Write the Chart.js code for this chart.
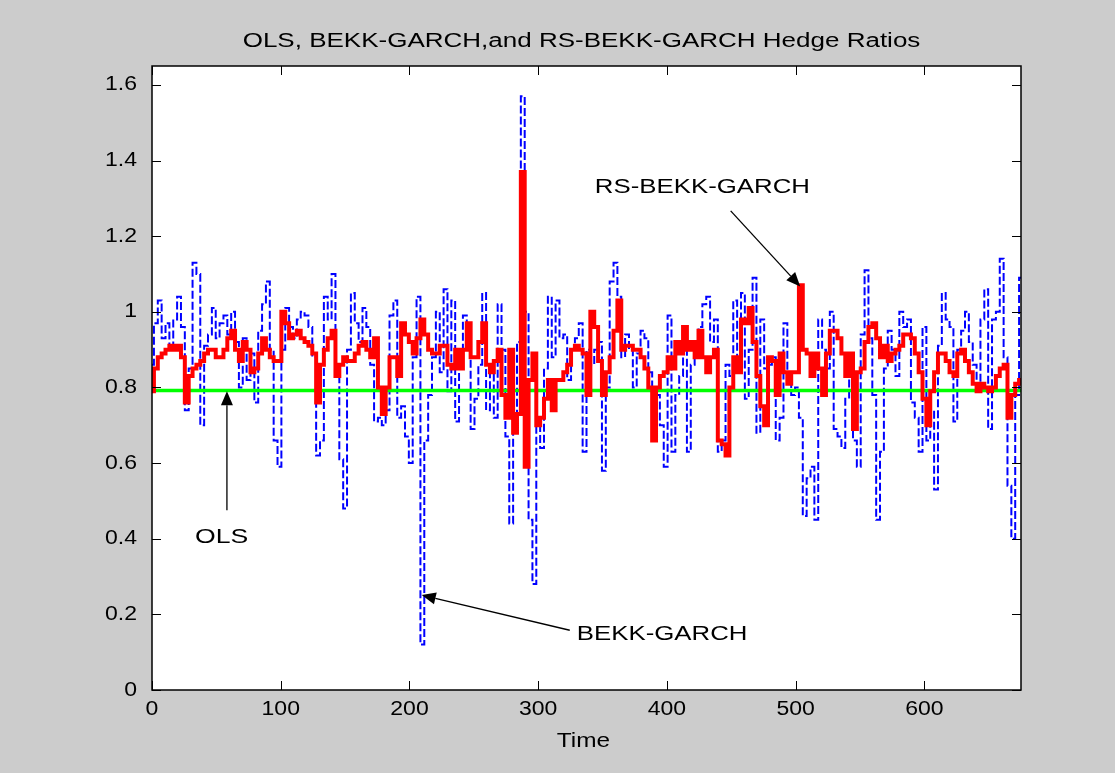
<!DOCTYPE html>
<html>
<head>
<meta charset="utf-8">
<script src="https://cdn.jsdelivr.net/npm/chart.js@4.4.1/dist/chart.umd.min.js"></script>
<style>
  html, body { margin: 0; padding: 0; background: #cccccc; }
  canvas { display: block; }
</style>
</head>
<body>
<canvas id="myChart" width="1115" height="773"></canvas>
<script>
// time index (every third observation)
const time = [
  0,3,6,9,12,15,18,21,24,27,30,33,36,39,42,45,48,51,54,57,60,63,66,69,72,75,78,81,84,87,
  90,93,96,99,102,105,108,111,114,117,120,123,126,129,132,135,138,141,144,147,150,153,156,159,
  162,165,168,171,174,177,180,183,186,189,192,195,198,201,204,207,210,213,216,219,222,225,
  228,231,234,237,240,243,246,249,252,255,258,261,264,267,270,273,276,279,282,285,288,291,
  294,297,300,303,306,309,312,315,318,321,324,327,330,333,336,339,342,345,348,351,354,357,
  360,363,366,369,372,375,378,381,384,387,390,393,396,399,402,405,408,411,414,417,420,423,
  426,429,432,435,438,441,444,447,450,453,456,459,462,465,468,471,474,477,480,483,486,489,
  492,495,498,501,504,507,510,513,516,519,522,525,528,531,534,537,540,543,546,549,552,555,
  558,561,564,567,570,573,576,579,582,585,588,591,594,597,600,603,606,609,612,615,618,621,
  624,627,630,633,636,639,642,645,648,651,654,657,660,663,666,669,672,675
];

// BEKK-GARCH hedge ratio (blue dashed)
const bekk = [
  0.86,0.97,1.03,0.93,0.97,0.90,0.98,1.04,0.96,0.74,
  0.85,1.13,1.10,0.70,0.91,0.94,1.01,0.93,0.97,0.99,
  0.94,1.00,0.92,0.80,0.93,0.82,0.89,0.76,0.95,1.02,
  1.08,0.90,0.66,0.59,0.90,1.01,0.96,0.93,0.98,
  1.00,0.99,0.96,0.88,0.62,0.66,1.04,0.98,1.10,0.86,
  0.61,0.48,0.90,1.05,0.97,0.92,1.01,0.96,0.86,0.71,
  0.72,0.70,0.74,0.99,1.03,0.72,0.75,0.67,0.60,0.88,
  1.04,0.12,0.66,0.78,0.88,1.00,0.84,
  1.06,0.79,1.03,0.71,0.86,0.99,0.90,0.69,0.77,0.86,
  1.05,0.74,0.84,0.72,1.02,0.90,0.67,0.44,0.68,0.92,
  1.57,1.00,0.45,0.28,0.70,0.64,0.85,1.04,0.88,1.03,
  0.93,0.94,0.82,0.90,0.93,0.97,0.63,0.90,
  0.86,0.90,0.92,0.58,0.80,1.08,1.13,1.04,0.88,0.94,
  0.90,0.80,0.89,0.95,0.93,0.84,0.76,0.78,0.70,0.59,
  0.99,0.63,0.78,0.83,0.92,0.63,0.86,0.92,0.96,1.02,
  1.04,0.92,0.98,0.63,0.66,0.86,0.83,
  1.03,0.88,1.05,0.77,0.90,1.09,0.68,0.98,0.85,0.86,
  0.88,0.66,0.72,0.97,0.83,0.78,0.80,0.72,0.46,0.56,
  0.59,0.45,0.98,0.90,0.85,1.00,0.69,0.67,0.64,0.77,
  0.84,0.66,0.59,0.94,1.11,0.93,0.78,0.45,
  0.63,0.85,0.95,0.90,0.83,1.00,0.96,0.98,0.76,0.72,
  0.63,0.96,0.66,0.74,0.53,0.91,1.05,0.98,0.96,0.71,
  0.90,0.95,1.00,0.92,0.86,0.79,0.98,1.06,0.69,0.98,
  1.00,1.14,0.88,0.54,0.40,0.78,1.09
];

// RS-BEKK-GARCH hedge ratio (red)
const rsBekk = [
  0.79,0.85,0.88,0.89,0.90,0.91,0.90,0.91,0.88,0.76,
  0.83,0.85,0.86,0.87,0.89,0.90,0.90,0.88,0.88,0.90,
  0.93,0.95,0.90,0.87,0.92,0.90,0.84,0.85,0.89,0.93,
  0.90,0.88,0.87,0.87,1.00,0.97,0.93,0.94,0.95,
  0.93,0.92,0.91,0.89,0.76,0.86,0.90,0.93,0.95,0.83,
  0.86,0.88,0.87,0.87,0.89,0.91,0.92,0.90,0.88,0.93,
  0.80,0.73,0.80,0.88,0.88,0.83,0.97,0.94,0.92,0.89,
  0.93,0.98,0.94,0.90,0.89,0.89,0.91,
  0.91,0.86,0.85,0.90,0.85,0.90,0.97,0.88,0.88,0.92,
  0.97,0.86,0.84,0.87,0.90,0.78,0.72,0.90,0.68,0.73,
  1.37,0.59,0.82,0.89,0.70,0.72,0.77,0.82,0.74,0.82,
  0.82,0.84,0.86,0.90,0.91,0.90,0.89,0.78,
  1.00,0.96,0.87,0.78,0.84,0.88,0.95,1.03,0.90,0.91,
  0.91,0.90,0.90,0.88,0.85,0.80,0.66,0.80,0.83,0.84,
  0.88,0.85,0.92,0.89,0.96,0.90,0.92,0.88,0.95,0.88,
  0.84,0.88,0.90,0.66,0.65,0.62,0.80,
  0.88,0.84,0.98,0.97,1.01,0.92,0.83,0.75,0.70,0.88,
  0.87,0.78,0.89,0.84,0.81,0.84,0.84,1.07,0.90,0.89,
  0.83,0.89,0.85,0.78,0.89,0.95,0.95,0.93,0.89,0.83,
  0.89,0.69,0.84,0.85,0.92,0.96,0.97,0.93,
  0.88,0.91,0.87,0.89,0.90,0.91,0.94,0.94,0.93,0.89,
  0.84,0.77,0.70,0.79,0.84,0.89,0.89,0.87,0.84,0.83,
  0.89,0.90,0.87,0.84,0.81,0.79,0.81,0.80,0.79,0.80,
  0.83,0.85,0.86,0.72,0.78,0.81,0.82
];

// OLS hedge ratio (constant)
const olsRatio = 0.792;

const xTicks = [0, 100, 200, 300, 400, 500, 600];
const yTicks = [0, 0.2, 0.4, 0.6, 0.8, 1, 1.2, 1.4, 1.6];

const FONT = '"Liberation Sans", Arial, sans-serif';

// text is drawn a bit wider than the font, like the original figure
function wideText(ctx, text, x, y, align, size, sx) {
  ctx.save();
  ctx.font = size + "px " + FONT;
  ctx.fillStyle = "#000";
  ctx.textBaseline = "middle";
  ctx.translate(x, y);
  ctx.scale(sx, 1);
  ctx.textAlign = align;
  ctx.fillText(text, 0, 0);
  ctx.restore();
}

function arrow(ctx, x1, y1, x2, y2) {
  const ang = Math.atan2(y2 - y1, x2 - x1);
  const len = 14, half = 6;
  ctx.save();
  ctx.strokeStyle = "#000";
  ctx.fillStyle = "#000";
  ctx.lineWidth = 1.3;
  ctx.beginPath();
  ctx.moveTo(x1, y1);
  ctx.lineTo(x2 - Math.cos(ang) * len, y2 - Math.sin(ang) * len);
  ctx.stroke();
  ctx.beginPath();
  ctx.moveTo(x2, y2);
  ctx.lineTo(x2 - Math.cos(ang) * len - Math.sin(ang) * half, y2 - Math.sin(ang) * len + Math.cos(ang) * half);
  ctx.lineTo(x2 - Math.cos(ang) * len + Math.sin(ang) * half, y2 - Math.sin(ang) * len - Math.cos(ang) * half);
  ctx.closePath();
  ctx.fill();
  ctx.restore();
}

const figurePlugin = {
  id: "figure",
  beforeDraw(chart) {
    const { ctx, chartArea: a } = chart;
    ctx.save();
    ctx.fillStyle = "#cccccc";
    ctx.fillRect(0, 0, chart.width, chart.height);
    ctx.fillStyle = "#ffffff";
    ctx.fillRect(a.left, a.top, a.right - a.left, a.bottom - a.top);
    ctx.restore();
  },
  afterDraw(chart) {
    const { ctx, chartArea: a } = chart;
    const xs = chart.scales.x, ys = chart.scales.y;
    const tick = 9;

    // box and inward ticks
    ctx.save();
    ctx.strokeStyle = "#000";
    ctx.lineWidth = 1.5;
    ctx.strokeRect(a.left, a.top, a.right - a.left, a.bottom - a.top);
    ctx.lineWidth = 1;
    ctx.beginPath();
    xTicks.forEach((v) => {
      const px = Math.round(xs.getPixelForValue(v)) + 0.5;
      ctx.moveTo(px, a.bottom); ctx.lineTo(px, a.bottom - tick);
      ctx.moveTo(px, a.top); ctx.lineTo(px, a.top + tick);
    });
    yTicks.forEach((v) => {
      const py = Math.round(ys.getPixelForValue(v)) + 0.5;
      ctx.moveTo(a.left, py); ctx.lineTo(a.left + tick, py);
      ctx.moveTo(a.right, py); ctx.lineTo(a.right - tick, py);
    });
    ctx.stroke();
    ctx.restore();

    // tick labels
    xTicks.forEach((v) => {
      wideText(ctx, String(v), xs.getPixelForValue(v), a.bottom + 19, "center", 20, 1.15);
    });
    yTicks.forEach((v) => {
      wideText(ctx, String(v), a.left - 15, ys.getPixelForValue(v), "right", 20, 1.15);
    });

    // title and axis label
    const cx = (a.left + a.right) / 2;
    wideText(ctx, "OLS, BEKK-GARCH,and RS-BEKK-GARCH Hedge Ratios", cx - 5, 41, "center", 20, 1.3);
    wideText(ctx, "Time", cx - 3, 741, "center", 20, 1.22);

    // annotations
    const X = (t) => xs.getPixelForValue(t);
    const Y = (v) => ys.getPixelForValue(v);
    wideText(ctx, "RS-BEKK-GARCH", X(344), Y(1.328), "left", 20, 1.29);
    arrow(ctx, X(449.5), Y(1.267), X(503.5), Y(1.067));
    wideText(ctx, "OLS", X(33.4), Y(0.404), "left", 20, 1.33);
    arrow(ctx, X(58.2), Y(0.475), X(58.2), Y(0.79));
    wideText(ctx, "BEKK-GARCH", X(330), Y(0.148), "left", 20, 1.29);
    arrow(ctx, X(324.5), Y(0.158), X(209.5), Y(0.251));
  }
};

const data = {
  datasets: [
    {
      label: "RS-BEKK-GARCH",
      data: time.map((t, i) => ({ x: t, y: rsBekk[i] })),
      borderColor: "#ff0000",
      borderWidth: 4,
      stepped: "middle",
      order: 1
    },
    {
      label: "OLS",
      data: time.map((t) => ({ x: t, y: olsRatio })),
      borderColor: "#00ff00",
      borderWidth: 3.5,
      order: 2
    },
    {
      label: "BEKK-GARCH",
      data: time.map((t, i) => ({ x: t, y: bekk[i] })),
      borderColor: "#0000ff",
      borderWidth: 2,
      borderDash: [8, 3],
      stepped: "middle",
      order: 3
    }
  ]
};

const config = {
  type: "line",
  data: data,
  options: {
    responsive: false,
    animation: false,
    devicePixelRatio: 1,
    layout: { padding: { top: 66, right: 94, left: 0, bottom: 0 } },
    elements: { point: { radius: 0 }, line: { tension: 0 } },
    scales: {
      x: {
        type: "linear",
        min: 0,
        max: 675,
        grid: { display: false },
        border: { display: false },
        ticks: { display: false },
        afterBuildTicks: (s) => { s.ticks = xTicks.map((v) => ({ value: v })); },
        afterFit: (s) => { s.height = 83; }
      },
      y: {
        min: 0,
        max: 1.65,
        grid: { display: false },
        border: { display: false },
        ticks: { display: false },
        afterBuildTicks: (s) => { s.ticks = yTicks.map((v) => ({ value: v })); },
        afterFit: (s) => { s.width = 152; }
      }
    },
    plugins: {
      legend: { display: false },
      tooltip: { enabled: false }
    }
  },
  plugins: [figurePlugin]
};

const myChart = new Chart(document.getElementById("myChart"), config);
</script>
</body>
</html>
